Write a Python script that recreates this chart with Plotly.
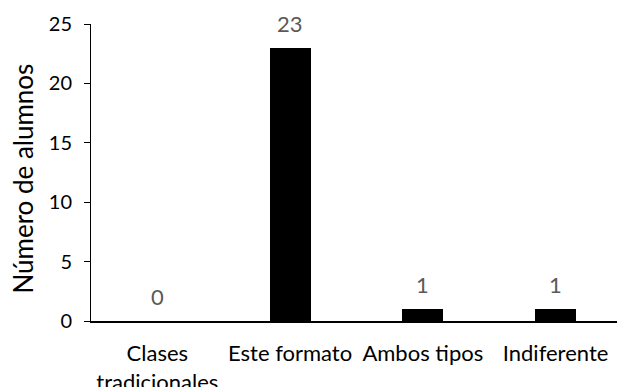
import plotly.graph_objects as go

# Survey answers: preferred class format
categories = ["Clases<br>tradicionales", "Este formato", "Ambos tipos", "Indiferente"]
alumnos = [0, 23, 1, 1]
y_ticks = [0, 5, 10, 15, 20, 25]

FONT = "Lato, 'Liberation Sans', sans-serif"

fig = go.Figure(
    go.Bar(
        x=categories,
        y=alumnos,
        width=0.31,
        marker=dict(color="#000000", line=dict(width=0)),
        hoverinfo="x+y",
    )
)

# value labels above each bar
for cat, val in zip(categories, alumnos):
    fig.add_annotation(
        x=cat, y=val, text=str(val), showarrow=False,
        yanchor="bottom", yshift=9,
        font=dict(family=FONT, size=22, color="#595959"),
    )

# rotated y-axis title
fig.add_annotation(
    xref="paper", yref="paper", x=-0.129, y=0.48,
    text="Número de alumnos", textangle=-90, showarrow=False,
    xanchor="center", yanchor="middle",
    font=dict(family=FONT, size=26, color="#000000"),
)

fig.update_layout(
    width=617, height=387,
    margin=dict(l=91, r=0, t=24, b=66),
    paper_bgcolor="white", plot_bgcolor="white",
    showlegend=False,
    font=dict(family=FONT, color="#000000"),
    bargap=0,
)

fig.update_xaxes(
    type="category",
    range=[-0.5, 3.463],
    automargin=False,
    showline=True, linecolor="#000000", linewidth=1.5,
    ticks="", showgrid=False, zeroline=False,
    tickfont=dict(family=FONT, size=22, color="#000000"),
    ticklabelstandoff=12,
)

fig.update_yaxes(
    range=[0, 25],
    tickvals=y_ticks,
    automargin=False,
    showline=True, linecolor="#000000", linewidth=1,
    ticks="outside", ticklen=6, tickcolor="#000000", tickwidth=1,
    showgrid=False, zeroline=False,
    tickfont=dict(family=FONT, size=20, color="#000000"),
    ticklabelstandoff=8,
)

fig.write_html("out.html")
